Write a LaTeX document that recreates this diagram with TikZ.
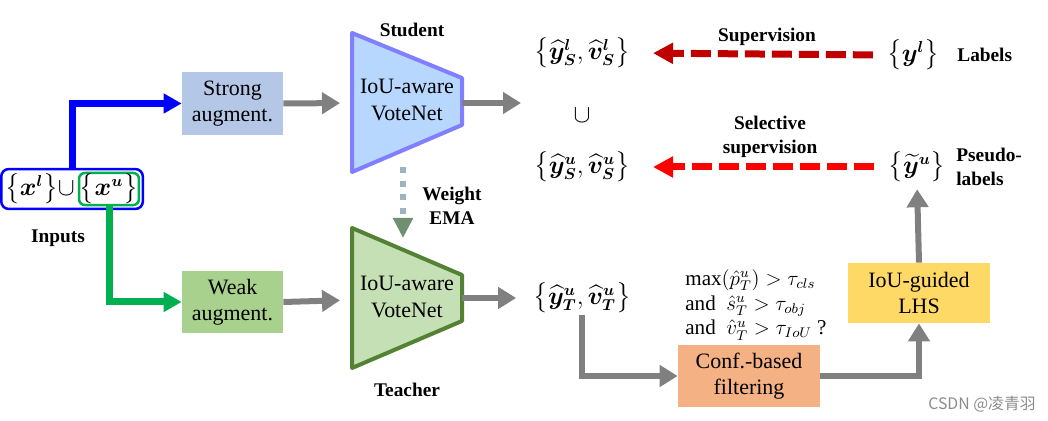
\documentclass[tikz,border=0pt]{standalone}
\usepackage{amsmath,bm}
\usepackage{fontspec}
\setmainfont{Liberation Serif}
\newfontfamily\cjk{Noto Sans CJK SC}
\usetikzlibrary{arrows.meta,positioning,fit}
\definecolor{arrgray}{HTML}{808080}
\definecolor{strongfill}{HTML}{B4C7E7}
\definecolor{weakfill}{HTML}{A9D18E}
\definecolor{stufill}{HTML}{B7D7FF}
\definecolor{stuline}{HTML}{7F7FFF}
\definecolor{teafill}{HTML}{C5E0B4}
\definecolor{tealine}{HTML}{548235}
\definecolor{inpgreen}{HTML}{00B050}
\definecolor{supred}{HTML}{C00000}
\definecolor{confill}{HTML}{F4B183}
\definecolor{lhsfill}{HTML}{FFD966}
\definecolor{emadot}{HTML}{9DB4BC}
\definecolor{emahead}{HTML}{6F8F6F}
\tikzset{
  augbox/.style={rectangle, minimum width=2.02cm, minimum height=1.26cm, inner sep=0pt,
    align=center, font=\fontsize{12.5}{15}\selectfont},
  lbl/.style={font=\bfseries\fontsize{11}{14}\selectfont, align=center, inner sep=0pt},
  setnode/.style={font=\fontsize{13.5}{16}\selectfont, inner sep=1pt},
  inpset/.style={font=\fontsize{13.5}{16}\selectfont, inner sep=0.5pt},
  nettext/.style={align=center, font=\fontsize{12.5}{15}\selectfont},
  garrow/.style={draw=arrgray, line width=0.12cm, -{Triangle[length=0.36cm,width=0.42cm]}},
  carrow/.style={line width=0.14cm, -{Triangle[length=0.36cm,width=0.38cm]}},
  suparrow/.style={line width=0.14cm, dash pattern=on 0.4cm off 0.14cm,
    -{Triangle[length=0.4cm,width=0.4cm]}}
}
\begin{document}
\begin{tikzpicture}[x=0.02cm, y=-0.02cm, line join=miter]
	%%%%% START %%%%%
	\useasboundingbox (0,0) rectangle (1048,421);

	% inputs
	\node[inpset, draw=inpgreen, line width=0.05cm, rounded corners=0.12cm] (xu) at (109,189) {$\big\{\bm{x}^{\bm{u}}\big\}$};
	\node[inpset, left=1pt of xu] (xl) {$\big\{\bm{x}^{\bm{l}}\big\}\cup$};
	\node[draw=blue, line width=0.05cm, rounded corners=0.15cm, inner sep=1.5pt, fit=(xl)(xu)] (inp) {};
	\node[lbl] (inplbl) at (58,238) {Inputs};

	% augmentations
	\node[augbox, fill=strongfill] (sa) at (232.5,103.5) {Strong\\augment.};
	\node[augbox, fill=weakfill] (wa) at (232.5,302) {Weak\\augment.};

	\draw[carrow, blue] (inp.north) |- (sa.west);
	\draw[carrow, inpgreen] (xu.south) |- (wa.west);

	% student / teacher
	\draw[draw=stuline, fill=stufill, line width=0.08cm, line join=round] (352,33) -- (462,78) -- (462,125) -- (352,172) -- cycle;
	\draw[draw=tealine, fill=teafill, line width=0.08cm, line join=round] (352,228) -- (462,275) -- (462,321) -- (352,368) -- cycle;
	\node[nettext] (stu) at (407,100) {IoU-aware\\VoteNet};
	\node[nettext] (tea) at (407,297) {IoU-aware\\VoteNet};
	\node[lbl] (stulbl) at (412,30) {Student};
	\node[lbl] (tealbl) at (407,390) {Teacher};
	\node[lbl] (emalbl) at (452,206) {Weight\\EMA};

	\coordinate (stuL) at (352,103);
	\coordinate (stuR) at (462,103);
	\coordinate (teaL) at (352,300);
	\coordinate (teaR) at (462,298);
	\coordinate (stuB) at (403,167);
	\coordinate (teaT) at (403,238);
	\coordinate (sout) at (521,103);

	\draw[garrow, shorten >=0.24cm] (sa.east) -- (stuL);
	\draw[garrow, shorten >=0.24cm] (wa.east) -- (teaL);
	\draw[garrow] (stuR) -- (sout);
	\draw[line width=0.12cm, emadot, dash pattern=on 0.12cm off 0.155cm,
	  -{Triangle[length=0.4cm,width=0.38cm,color=emahead]}] (stuB) -- (teaT);

	% predictions and targets
	\node[setnode] (ySl) at (582,53) {$\big\{\bm{\widehat{y}^{l}_{S}},\bm{\widehat{v}^{l}_{S}}\big\}$};
	\node[setnode] (cup) at (582,115) {$\cup$};
	\node[setnode] (ySu) at (582,167) {$\big\{\bm{\widehat{y}^{u}_{S}},\bm{\widehat{v}^{u}_{S}}\big\}$};
	\node[setnode] (yTu) at (582,298) {$\big\{\bm{\widehat{y}^{u}_{T}},\bm{\widehat{v}^{u}_{T}}\big\}$};
	\node[setnode] (yl) at (913,55) {$\big\{\bm{y}^{\bm{l}}\big\}$};
	\node[setnode] (yu) at (917,167) {$\big\{\bm{\widetilde{y}}^{\bm{u}}\big\}$};
	\node[lbl, anchor=west] (labl) at (957,55) {Labels};
	\node[lbl, anchor=west, align=left] (pslbl) at (956,167) {Pseudo-\\labels};

	\draw[suparrow, supred, shorten <=0.24cm, shorten >=0.42cm] (yl.west) -- (ySl.east);
	\draw[suparrow, red, shorten <=0.24cm, shorten >=0.42cm] (yu.west) -- (ySu.east);
	\node[lbl] (suplbl) at (767,37) {Supervision};
	\node[lbl] (sellbl) at (770,137) {Selective\\supervision};

	\draw[garrow, shorten >=0.3cm] (teaR) -- (yTu.west);

	% filtering
	\node[augbox, fill=confill, minimum width=2.84cm, minimum height=1.24cm] (conf) at (749,376) {Conf.-based\\filtering};
	\node[augbox, fill=lhsfill, minimum width=2.84cm, minimum height=1.2cm] (lhs) at (919,293) {IoU-guided\\LHS};
	\node[anchor=west, align=left, inner sep=0pt, font=\fontsize{12}{14}\selectfont] (cond) at (685,305)
	  {$\max(\hat{p}^{u}_{T})>\tau_{cls}$\\and\ \ $\hat{s}^{u}_{T}>\tau_{obj}$\\and\ \ $\hat{v}^{u}_{T}>\tau_{IoU}$ ?};

	\draw[garrow] (yTu.south) |- (conf.west);
	\draw[garrow] (conf.east) -| (lhs.south);
	\draw[garrow, shorten >=0.1cm] (lhs.north) -- (yu.south);

	\node[text=black!45, font=\cjk\fontsize{9}{10}\selectfont] (mark) at (982,404) {CSDN @凌青羽};
	%%%%% END %%%%%
\end{tikzpicture}
\end{document}
